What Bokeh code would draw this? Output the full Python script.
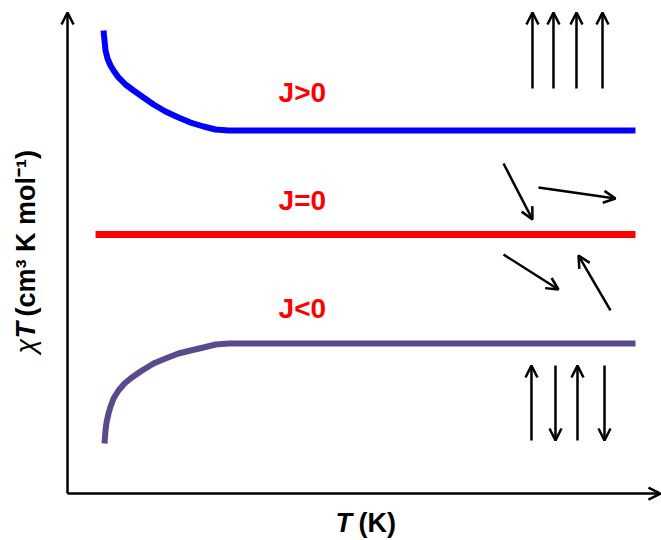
import math
from bokeh.plotting import figure
from bokeh.models import Range1d, Arrow, OpenHead, Label
from bokeh.core.properties import value
from bokeh.embed import file_html
from bokeh.resources import INLINE

# ---- data (arbitrary units: T 0..100, chiT 0..100) ----
blue_T = [6.10, 6.27, 6.44, 6.78, 7.29, 7.80, 8.64, 9.83, 11.19, 12.88, 14.58,
          16.61, 18.81, 20.85, 23.05, 25.08, 27.29, 96.27]
blue_chi = [96.46, 94.38, 92.29, 90.63, 89.17, 88.13, 86.67, 85.21, 83.96, 82.50, 81.04,
            79.58, 78.33, 77.29, 76.46, 75.83, 75.63, 75.63]
red_T = [4.75, 96.27]
red_chi = [53.96, 53.96]
purple_T = [6.27, 6.44, 6.61, 6.95, 7.29, 7.80, 8.64, 9.66, 10.68, 12.37, 14.58,
            16.61, 18.81, 20.85, 23.05, 25.08, 27.29, 96.27]
purple_chi = [10.42, 13.13, 14.79, 16.67, 18.13, 19.79, 21.46, 22.92, 23.96, 25.42, 27.08,
              28.13, 29.17, 29.79, 30.42, 31.04, 31.25, 31.25]

labels = ["J>0", "J=0", "J<0"]
label_T = [39.8, 39.8, 39.8]
label_chi = [83.5, 61.0, 38.5]

# spin arrows (start T, start chi, end T, end chi)
ferro_x = [78.81, 82.37, 86.27, 90.68]
ferro_y0 = [84.38, 84.38, 84.38, 84.38]
ferro_y1 = [100.2, 100.2, 100.2, 100.2]
para_x0 = [73.90, 79.83, 73.90, 92.03]
para_y0 = [68.75, 63.75, 49.79, 38.13]
para_x1 = [78.81, 92.88, 83.22, 86.61]
para_y1 = [57.08, 61.46, 42.50, 49.58]
anti_x = [78.64, 82.71, 86.44, 91.02]
anti_y0 = [11.04, 26.67, 11.04, 26.67]
anti_y1 = [26.67, 11.04, 26.67, 11.04]

W, H = 661, 540
p = figure(width=W, height=H, output_backend="svg", toolbar_location=None,
           x_range=Range1d(-11.36, 100.68), y_range=Range1d(-9.79, 102.71),
           min_border=0)
p.axis.visible = False
p.grid.visible = False
p.outline_line_color = None
p.background_fill_color = "white"
p.border_fill_color = "white"

# axes with arrowheads
p.add_layout(Arrow(x_start=0, y_start=0, x_end=0, y_end=100.2, line_width=2.5,
                   line_color="black", end=OpenHead(size=12, line_width=2.5, line_color="black")))
p.add_layout(Arrow(x_start=0, y_start=0, x_end=100.5, y_end=0, line_width=2.5,
                   line_color="black", end=OpenHead(size=12, line_width=2.5, line_color="black")))

p.line(blue_T, blue_chi, line_color="#0000FF", line_width=6, line_join="round")
p.line(red_T, red_chi, line_color="#FF0000", line_width=7)
p.line(purple_T, purple_chi, line_color="#5B4A8B", line_width=6, line_join="round")

p.text(label_T, label_chi, text=labels, text_color="#FF0000", text_font=value("Liberation Sans"),
       text_font_style="bold", text_font_size="28px", text_align="center", text_baseline="middle")

def spin(x0, y0, x1, y1):
    p.add_layout(Arrow(x_start=x0, y_start=y0, x_end=x1, y_end=y1, line_width=2.5,
                       line_color="black",
                       end=OpenHead(size=12, line_width=2.5, line_color="black")))

for i in range(4):
    spin(ferro_x[i], ferro_y0[i], ferro_x[i], ferro_y1[i])
    spin(para_x0[i], para_y0[i], para_x1[i], para_y1[i])
    spin(anti_x[i], anti_y0[i], anti_x[i], anti_y1[i])

# axis titles
F = "Liberation Sans"
fs = "27px"
def lab(x, y, text, style, angle=0.0):
    p.add_layout(Label(x=x, y=y, x_units="screen", y_units="screen", text=text,
                       angle=angle, text_font=F, text_font_size=fs, text_font_style=style,
                       text_align="left", text_baseline="middle", text_color="black"))

lab(25, 540 - 353, "χ", "italic", math.pi / 2)
lab(25, 540 - 338, "T", "bold italic", math.pi / 2)
lab(25, 540 - 316, "(cm³ K mol⁻¹)", "bold", math.pi / 2)
lab(335, 18, "T", "bold italic")
lab(358, 18, "(K)", "bold")

open("out.html", "w").write(file_html(p, INLINE))
